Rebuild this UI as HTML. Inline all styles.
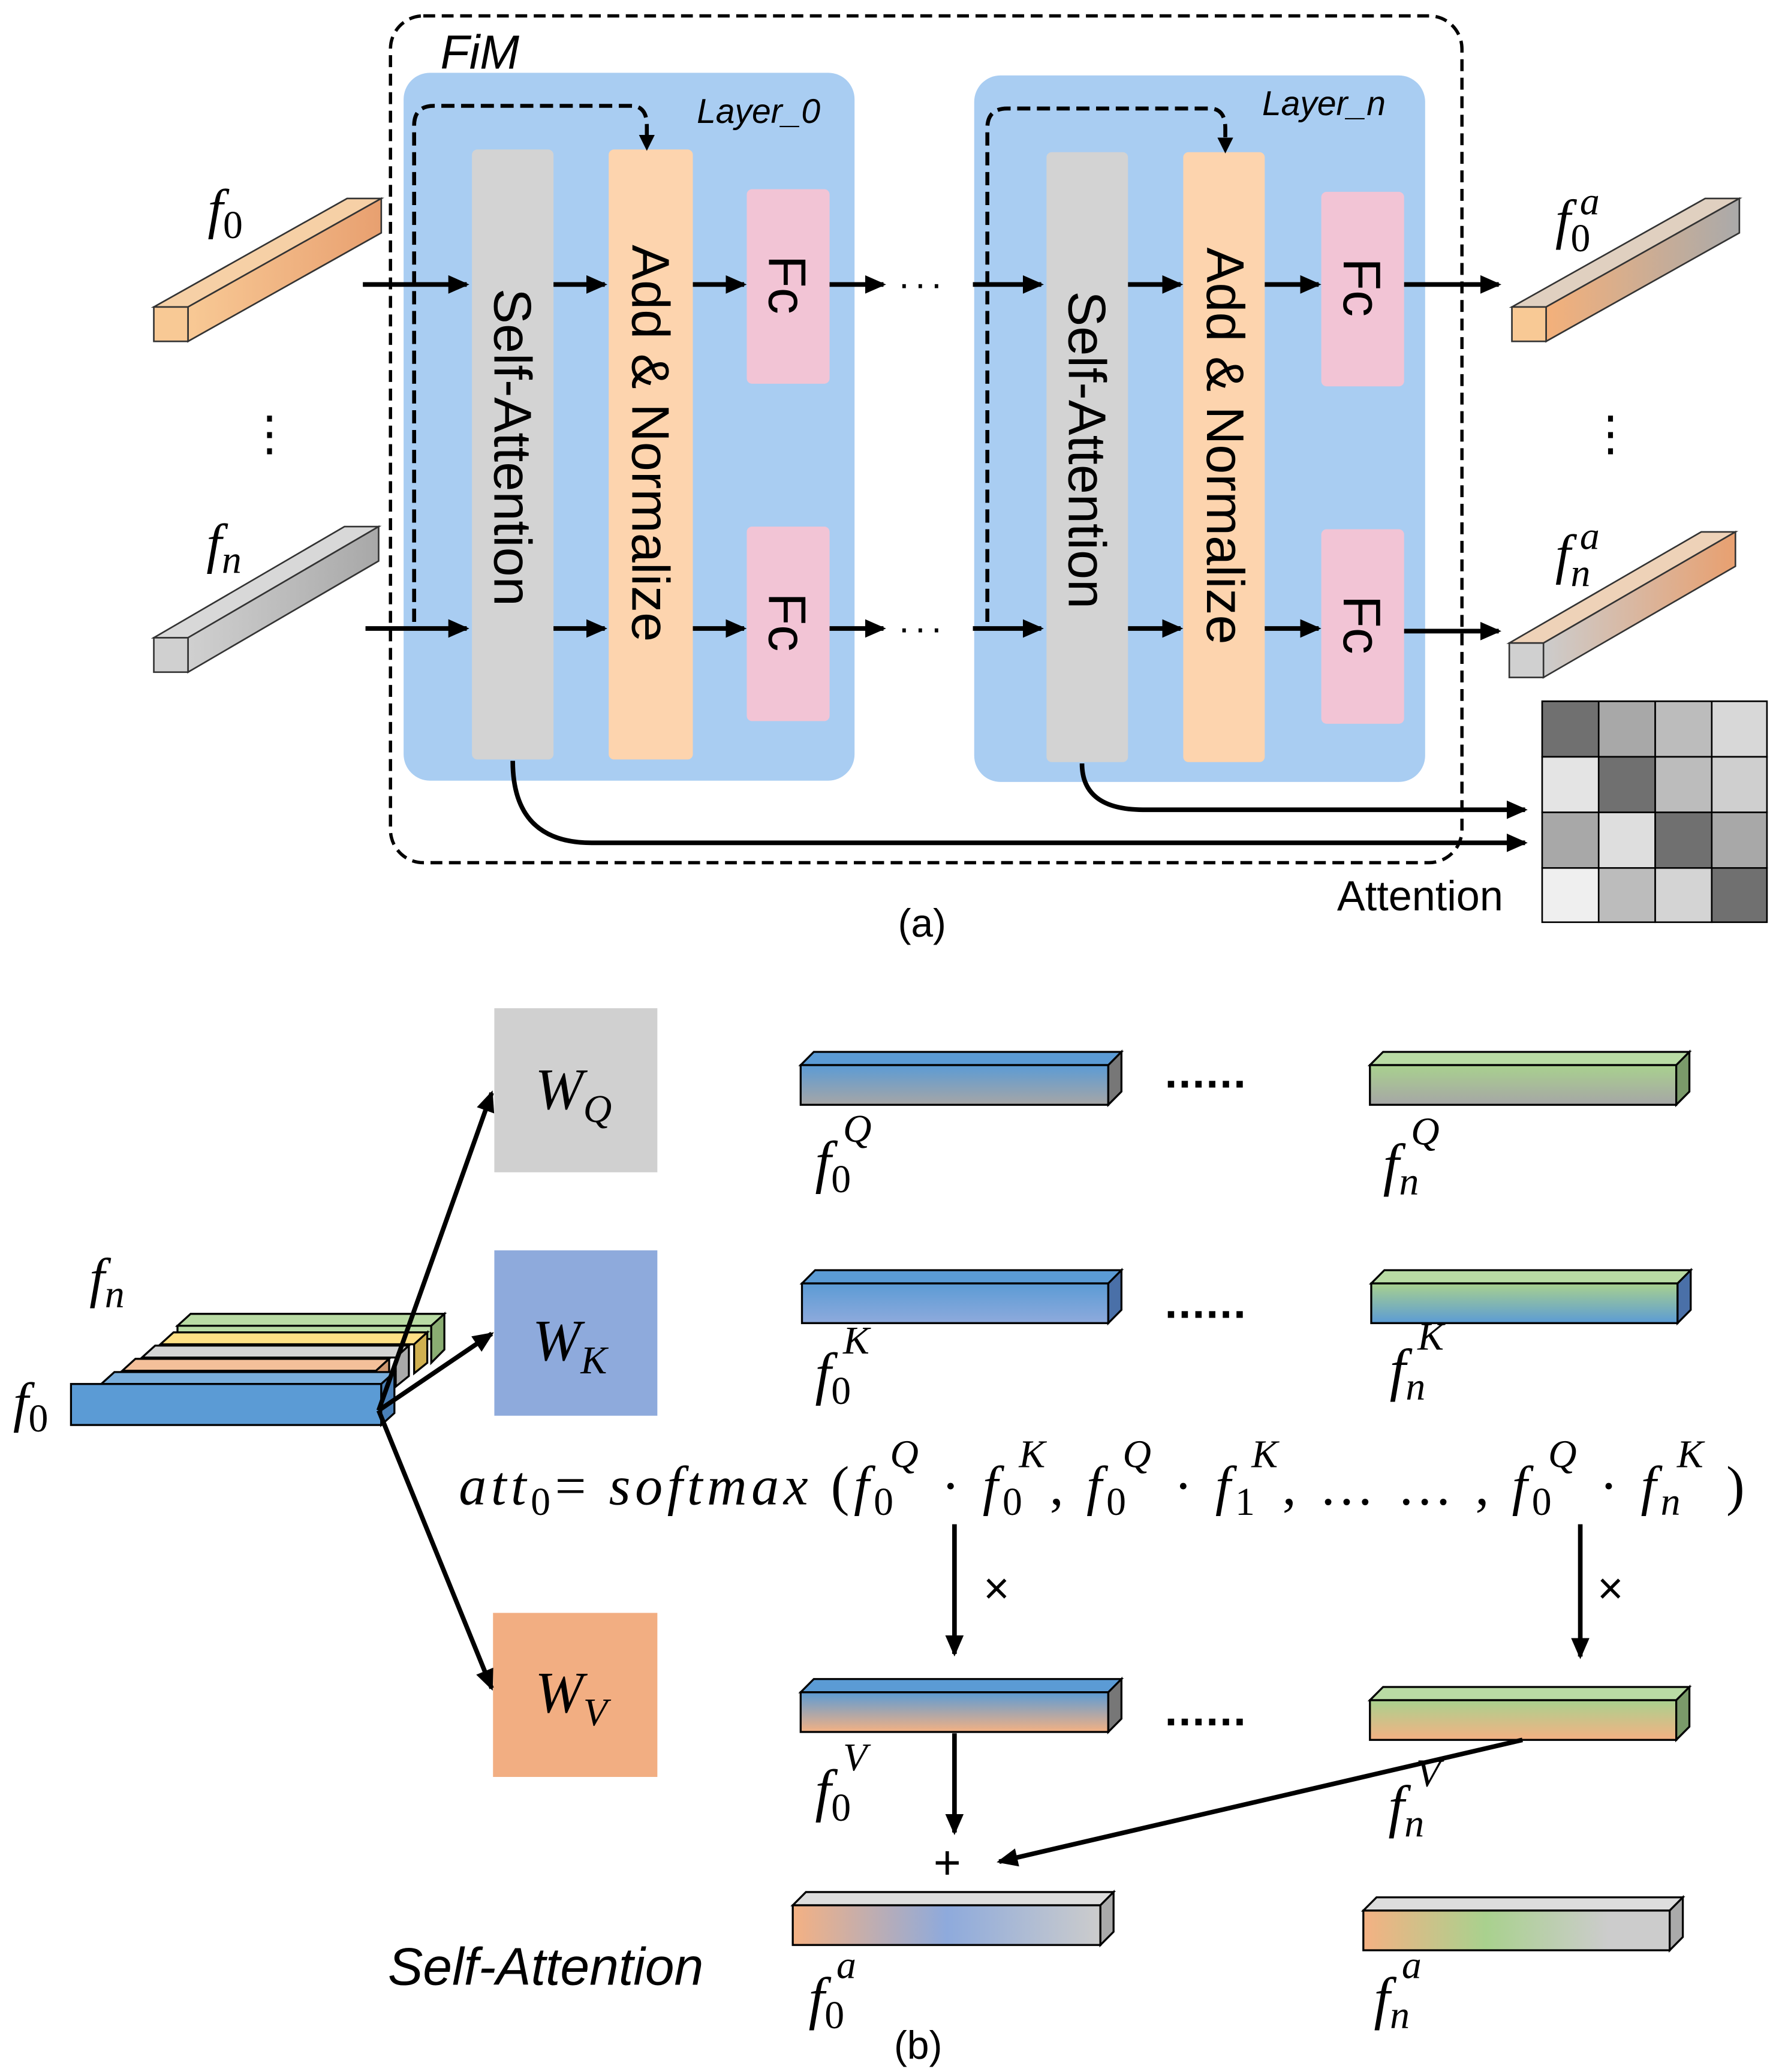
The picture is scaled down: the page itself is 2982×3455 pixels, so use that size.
<!DOCTYPE html>
<html><head><meta charset="utf-8"><style>html,body{margin:0;padding:0;background:#fff}svg{display:block}</style></head><body>
<svg width="2982" height="3455" viewBox="0 0 1360 1566" preserveAspectRatio="none" xmlns="http://www.w3.org/2000/svg" font-family="Liberation Sans, sans-serif">
<defs>
<marker id="ab" markerWidth="16" markerHeight="16" refX="14" refY="8" orient="auto" markerUnits="userSpaceOnUse" viewBox="0 0 16 16"><path d="M0,1 L16,8 L0,15 z" fill="#000"/></marker>
<linearGradient id="gOr" x1="0" y1="0" x2="1" y2="0"><stop offset="0" stop-color="#f8c995"/><stop offset="1" stop-color="#e8a070"/></linearGradient>
<linearGradient id="gGr" x1="0" y1="0" x2="1" y2="0"><stop offset="0" stop-color="#d0d0d0"/><stop offset="1" stop-color="#a8a8a8"/></linearGradient>
<linearGradient id="gO0" x1="0" y1="0" x2="1" y2="0"><stop offset="0" stop-color="#f4b07a"/><stop offset="1" stop-color="#aaaaaa"/></linearGradient>
<linearGradient id="gOn" x1="0" y1="0" x2="1" y2="0"><stop offset="0" stop-color="#cccccc"/><stop offset="1" stop-color="#e8a070"/></linearGradient>
<linearGradient id="gQ0" x1="0" y1="0" x2="0" y2="1"><stop offset="0" stop-color="#5b9bd5"/><stop offset="1" stop-color="#a6a6a6"/></linearGradient>
<linearGradient id="gQn" x1="0" y1="0" x2="0" y2="1"><stop offset="0" stop-color="#a9d18e"/><stop offset="1" stop-color="#a6a6a6"/></linearGradient>
<linearGradient id="gK0" x1="0" y1="0" x2="0" y2="1"><stop offset="0" stop-color="#5b9bd5"/><stop offset="1" stop-color="#8eaadc"/></linearGradient>
<linearGradient id="gKn" x1="0" y1="0" x2="0" y2="1"><stop offset="0" stop-color="#a9d18e"/><stop offset="1" stop-color="#5b9bd5"/></linearGradient>
<linearGradient id="gV0" x1="0" y1="0" x2="0" y2="1"><stop offset="0" stop-color="#5b9bd5"/><stop offset="1" stop-color="#f4b183"/></linearGradient>
<linearGradient id="gVn" x1="0" y1="0" x2="0" y2="1"><stop offset="0" stop-color="#a9d18e"/><stop offset="1" stop-color="#f4b183"/></linearGradient>
<linearGradient id="gA0" x1="0" y1="0" x2="1" y2="0"><stop offset="0" stop-color="#f4b183"/><stop offset="0.5" stop-color="#8eaadc"/><stop offset="1" stop-color="#cccccc"/></linearGradient>
<linearGradient id="gAn" x1="0" y1="0" x2="1" y2="0"><stop offset="0" stop-color="#f4b183"/><stop offset="0.4" stop-color="#a9d18e"/><stop offset="0.8" stop-color="#cccccc"/></linearGradient>
</defs>

<!-- Part (a) -->
<rect x="297" y="12" width="815" height="640" rx="25" fill="none" stroke="#000" stroke-width="2.5" stroke-dasharray="9,5"/>
<text x="335" y="52" font-size="36" font-style="italic">FiM</text>
<rect x="307" y="55" width="343" height="535" rx="20" fill="#a9cdf2"/>
<rect x="741" y="57" width="343" height="534" rx="20" fill="#a9cdf2"/>
<text x="530" y="93" font-size="26" font-style="italic">Layer_0</text>
<text x="960" y="87" font-size="26" font-style="italic">Layer_n</text>

<rect x="359" y="113" width="62" height="461" rx="4" fill="#d3d3d3"/>
<rect x="463" y="113" width="64" height="461" rx="4" fill="#fdd4ae"/>
<rect x="568" y="143" width="63" height="147" rx="4" fill="#f2c4d5"/>
<rect x="568" y="398" width="63" height="147" rx="4" fill="#f2c4d5"/>
<rect x="796" y="115" width="62" height="461" rx="4" fill="#d3d3d3"/>
<rect x="900" y="115" width="62" height="461" rx="4" fill="#fdd4ae"/>
<rect x="1005" y="145" width="63" height="147" rx="4" fill="#f2c4d5"/>
<rect x="1005" y="400" width="63" height="147" rx="4" fill="#f2c4d5"/>
<g font-size="40">
<text transform="translate(376,218) rotate(90)">Self-Attention</text>
<text transform="translate(481,185) rotate(90)">Add &amp; Normalize</text>
<text transform="translate(585,193) rotate(90)">Fc</text>
<text transform="translate(585,448) rotate(90)">Fc</text>
<text transform="translate(813,220) rotate(90)">Self-Attention</text>
<text transform="translate(918,187) rotate(90)">Add &amp; Normalize</text>
<text transform="translate(1022,195) rotate(90)">Fc</text>
<text transform="translate(1022,450) rotate(90)">Fc</text>
</g>
<g stroke="#000" stroke-width="3.5" marker-end="url(#ab)">
<line x1="276" y1="215" x2="355" y2="215"/>
<line x1="421" y1="215" x2="460" y2="215"/>
<line x1="527" y1="215" x2="566" y2="215"/>
<line x1="631" y1="215" x2="672" y2="215"/>
<line x1="740" y1="215" x2="792" y2="215"/>
<line x1="858" y1="215" x2="898" y2="215"/>
<line x1="962" y1="215" x2="1003" y2="215"/>
<line x1="1068" y1="215" x2="1140" y2="215"/>
<line x1="278" y1="475" x2="355" y2="475"/>
<line x1="421" y1="475" x2="460" y2="475"/>
<line x1="527" y1="475" x2="566" y2="475"/>
<line x1="631" y1="475" x2="672" y2="475"/>
<line x1="740" y1="475" x2="792" y2="475"/>
<line x1="858" y1="475" x2="898" y2="475"/>
<line x1="962" y1="475" x2="1003" y2="475"/>
<line x1="1068" y1="477" x2="1140" y2="477"/>
</g>
<text x="683" y="224" font-size="28" letter-spacing="3">···</text>
<text x="683" y="484" font-size="28" letter-spacing="3">···</text>
<g fill="none" stroke="#000" stroke-width="3" stroke-dasharray="10,5">
<path d="M315,470 V95 Q315,80 330,80 H480 Q492,80 492,95 V108"/>
<path d="M751,470 V97 Q751,82 766,82 H920 Q932,82 932,97 V110"/>
</g>
<path d="M486,102 L498,102 L492,114 z"/><path d="M926,104 L938,104 L932,116 z"/>
<g fill="none" stroke="#000" stroke-width="3.5" marker-end="url(#ab)">
<path d="M390,575 Q390,637 450,637 H1160"/>
<path d="M823,577 Q823,612 870,612 H1160"/>
</g>
<text x="1017" y="688" font-size="32">Attention</text>
<text x="683" y="708" font-size="30">(a)</text>

<!-- matrix -->
<g stroke="#000" stroke-width="1.2">
<rect x="1173" y="530" width="43" height="42" fill="#707070"/><rect x="1216" y="530" width="43" height="42" fill="#a8a8a8"/><rect x="1259" y="530" width="43" height="42" fill="#bcbcbc"/><rect x="1302" y="530" width="42" height="42" fill="#d8d8d8"/>
<rect x="1173" y="572" width="43" height="42" fill="#e4e4e4"/><rect x="1216" y="572" width="43" height="42" fill="#707070"/><rect x="1259" y="572" width="43" height="42" fill="#bcbcbc"/><rect x="1302" y="572" width="42" height="42" fill="#cfcfcf"/>
<rect x="1173" y="614" width="43" height="42" fill="#a8a8a8"/><rect x="1216" y="614" width="43" height="42" fill="#dedede"/><rect x="1259" y="614" width="43" height="42" fill="#707070"/><rect x="1302" y="614" width="42" height="42" fill="#a8a8a8"/>
<rect x="1173" y="656" width="43" height="41" fill="#efefef"/><rect x="1216" y="656" width="43" height="41" fill="#bcbcbc"/><rect x="1259" y="656" width="43" height="41" fill="#d4d4d4"/><rect x="1302" y="656" width="42" height="41" fill="#707070"/>
</g>

<!-- left/right diagonal bars -->
<g stroke="#333" stroke-width="1.2">
<polygon points="117,232 264,150 290,150 143,232" fill="#f6d0a6"/>
<polygon points="143,232 290,150 290,176 143,258" fill="url(#gOr)"/>
<rect x="117" y="232" width="26" height="26" fill="#f8c995"/>
<polygon points="117,482 262,398 288,398 143,482" fill="#d8d8d8"/>
<polygon points="143,482 288,398 288,424 143,508" fill="url(#gGr)"/>
<rect x="117" y="482" width="26" height="26" fill="#d0d0d0"/>
<polygon points="1150,232 1297,150 1323,150 1176,232" fill="#e0d0c0"/>
<polygon points="1176,232 1323,150 1323,176 1176,258" fill="url(#gO0)"/>
<rect x="1150" y="232" width="26" height="26" fill="#f8c995"/>
<polygon points="1148,486 1294,402 1320,402 1174,486" fill="#eed2b8"/>
<polygon points="1174,486 1320,402 1320,428 1174,512" fill="url(#gOn)"/>
<rect x="1148" y="486" width="26" height="26" fill="#d0d0d0"/>
</g>
<g font-family="Liberation Serif, serif" font-style="italic">
<text x="158" y="172" font-size="42">f<tspan font-size="30" font-style="normal" dy="8">0</tspan></text>
<text x="157" y="425" font-size="42">f<tspan font-size="30" dy="8">n</tspan></text>
<text x="1183" y="180" font-size="42">f<tspan font-size="30" font-style="normal" dy="10">0</tspan><tspan font-size="30" dx="-8" dy="-28">a</tspan></text>
<text x="1183" y="433" font-size="42">f<tspan font-size="30" dy="10">n</tspan><tspan font-size="30" dx="-8" dy="-28">a</tspan></text>
</g>
<text x="187" y="340" font-size="36">⋮</text>
<text x="1207" y="340" font-size="36">⋮</text>

<!-- Part (b) -->
<rect x="376" y="762" width="124" height="124" fill="#d0d0d0"/>
<rect x="376" y="945" width="124" height="125" fill="#8eaadc"/>
<rect x="375" y="1219" width="125" height="124" fill="#f2ae82"/>
<g font-family="Liberation Serif, serif" font-style="italic" font-size="44">
<text x="407" y="838">W<tspan font-size="30" dy="10">Q</tspan></text>
<text x="405" y="1028">W<tspan font-size="30" dy="10">K</tspan></text>
<text x="407" y="1294">W<tspan font-size="30" dy="10">V</tspan></text>
</g>

<!-- stacked feature bars -->
<g stroke="#000" stroke-width="1.5">
<polygon points="135,1002 145,993 338,993 328,1002" fill="#b9dba4"/><rect x="135" y="1002" width="193" height="10" fill="#b9dba4"/><polygon points="328,1002 338,993 338,1020 328,1030" fill="#8aad72"/>
<polygon points="122,1016 132,1007 325,1007 315,1016" fill="#ffe085"/><polygon points="315,1016 325,1007 325,1030 315,1038" fill="#d0b050"/>
<polygon points="108,1026 118,1017 311,1017 301,1026" fill="#d4d4d4"/><polygon points="301,1026 311,1017 311,1040 301,1048" fill="#aaa"/>
<polygon points="93,1036 103,1027 296,1027 286,1036" fill="#f4c09a"/><polygon points="286,1036 296,1027 296,1050 286,1058" fill="#d09870"/>
<polygon points="77,1046 87,1037 300,1037 290,1046" fill="#7aaedc"/>
<rect x="54" y="1046" width="236" height="31" fill="#5b9bd5"/>
<polygon points="290,1046 300,1037 300,1068 290,1077" fill="#4a80b8"/>
</g>
<g font-family="Liberation Serif, serif" font-style="italic">
<text x="10" y="1074" font-size="42">f<tspan font-size="30" font-style="normal" dy="8">0</tspan></text>
<text x="68" y="980" font-size="42">f<tspan font-size="30" dy="8">n</tspan></text>
</g>
<g stroke="#000" stroke-width="3.5" marker-end="url(#ab)">
<line x1="288" y1="1066" x2="374" y2="826"/>
<line x1="288" y1="1066" x2="374" y2="1008"/>
<line x1="288" y1="1066" x2="374" y2="1276"/>
</g>

<!-- QKV bars -->
<g stroke="#000" stroke-width="1.5">
<polygon points="609,805 619,795 853,795 843,805" fill="#5b9bd5"/><rect x="609" y="805" width="234" height="30" fill="url(#gQ0)"/><polygon points="843,805 853,795 853,825 843,835" fill="#777"/>
<polygon points="1042,805 1052,795 1285,795 1275,805" fill="#b9dba4"/><rect x="1042" y="805" width="233" height="30" fill="url(#gQn)"/><polygon points="1275,805 1285,795 1285,825 1275,835" fill="#7a9a6a"/>
<polygon points="610,970 620,960 853,960 843,970" fill="#5b9bd5"/><rect x="610" y="970" width="233" height="30" fill="url(#gK0)"/><polygon points="843,970 853,960 853,990 843,1000" fill="#4a70a8"/>
<polygon points="1043,970 1053,960 1286,960 1276,970" fill="#b9dba4"/><rect x="1043" y="970" width="233" height="30" fill="url(#gKn)"/><polygon points="1276,970 1286,960 1286,990 1276,1000" fill="#4a70a8"/>
<polygon points="609,1279 619,1269 853,1269 843,1279" fill="#5b9bd5"/><rect x="609" y="1279" width="234" height="30" fill="url(#gV0)"/><polygon points="843,1279 853,1269 853,1299 843,1309" fill="#777"/>
<polygon points="1042,1285 1052,1275 1285,1275 1275,1285" fill="#b9dba4"/><rect x="1042" y="1285" width="233" height="30" fill="url(#gVn)"/><polygon points="1275,1285 1285,1275 1285,1305 1275,1315" fill="#7a9a6a"/>
<polygon points="603,1440 613,1430 847,1430 837,1440" fill="#ddd"/><rect x="603" y="1440" width="234" height="30" fill="url(#gA0)"/><polygon points="837,1440 847,1430 847,1460 837,1470" fill="#aaa"/>
<polygon points="1037,1444 1047,1434 1280,1434 1270,1444" fill="#ddd"/><rect x="1037" y="1444" width="233" height="30" fill="url(#gAn)"/><polygon points="1270,1444 1280,1434 1280,1464 1270,1474" fill="#aaa"/>
</g>
<g font-size="34" font-weight="bold" letter-spacing="1">
<text x="886" y="822">......</text><text x="886" y="996">......</text><text x="886" y="1304">......</text>
</g>
<g font-family="Liberation Serif, serif" font-style="italic" font-size="44">
<text x="620" y="893">f<tspan font-size="30" font-style="normal" dy="8">0</tspan><tspan font-size="30" dx="-6" dy="-38">Q</tspan></text>
<text x="1052" y="895">f<tspan font-size="30" dy="8">n</tspan><tspan font-size="30" dx="-6" dy="-38">Q</tspan></text>
<text x="620" y="1053">f<tspan font-size="30" font-style="normal" dy="8">0</tspan><tspan font-size="30" dx="-6" dy="-38">K</tspan></text>
<text x="1057" y="1050">f<tspan font-size="30" dy="8">n</tspan><tspan font-size="30" dx="-6" dy="-38">K</tspan></text>
<text x="620" y="1368">f<tspan font-size="30" font-style="normal" dy="8">0</tspan><tspan font-size="30" dx="-6" dy="-38">V</tspan></text>
<text x="1056" y="1380">f<tspan font-size="30" dy="8">n</tspan><tspan font-size="30" dx="-6" dy="-38">V</tspan></text>
<text x="615" y="1525">f<tspan font-size="30" font-style="normal" dy="8">0</tspan><tspan font-size="30" dx="-6" dy="-38">a</tspan></text>
<text x="1045" y="1525">f<tspan font-size="30" dy="8">n</tspan><tspan font-size="30" dx="-6" dy="-38">a</tspan></text>
<text x="349" y="1137" font-size="42" textLength="978" lengthAdjust="spacing">att<tspan font-size="30" font-style="normal" dy="8">0</tspan><tspan dy="-8" font-style="normal">=</tspan> softmax <tspan font-style="normal">(</tspan>f<tspan font-size="30" font-style="normal" dy="8">0</tspan><tspan font-size="30" dx="-6" dy="-36">Q</tspan><tspan dy="28" font-style="normal"> · </tspan>f<tspan font-size="30" font-style="normal" dy="8">0</tspan><tspan font-size="30" dx="-6" dy="-36">K</tspan><tspan dy="28" font-style="normal">, </tspan>f<tspan font-size="30" font-style="normal" dy="8">0</tspan><tspan font-size="30" dx="-6" dy="-36">Q</tspan><tspan dy="28" font-style="normal"> · </tspan>f<tspan font-size="30" font-style="normal" dy="8">1</tspan><tspan font-size="30" dx="-6" dy="-36">K</tspan><tspan dy="28" font-style="normal">,   … … ,  </tspan>f<tspan font-size="30" font-style="normal" dy="8">0</tspan><tspan font-size="30" dx="-6" dy="-36">Q</tspan><tspan dy="28" font-style="normal"> · </tspan>f<tspan font-size="30" dy="8">n</tspan><tspan font-size="30" dx="-6" dy="-36">K</tspan><tspan dy="28" font-style="normal"> )</tspan></text>
</g>
<g stroke="#000" stroke-width="3.5" marker-end="url(#ab)">
<line x1="726" y1="1152" x2="726" y2="1250"/>
<line x1="1202" y1="1152" x2="1202" y2="1252"/>
<line x1="726" y1="1310" x2="726" y2="1385"/>
<line x1="1158" y1="1315" x2="760" y2="1407"/>
</g>
<text x="748" y="1212" font-size="34">×</text>
<text x="1215" y="1212" font-size="34">×</text>
<text x="710" y="1420" font-size="36">+</text>
<text x="295" y="1500" font-size="40" font-style="italic">Self-Attention</text>
<text x="680" y="1556" font-size="30">(b)</text>
</svg>
</body></html>
